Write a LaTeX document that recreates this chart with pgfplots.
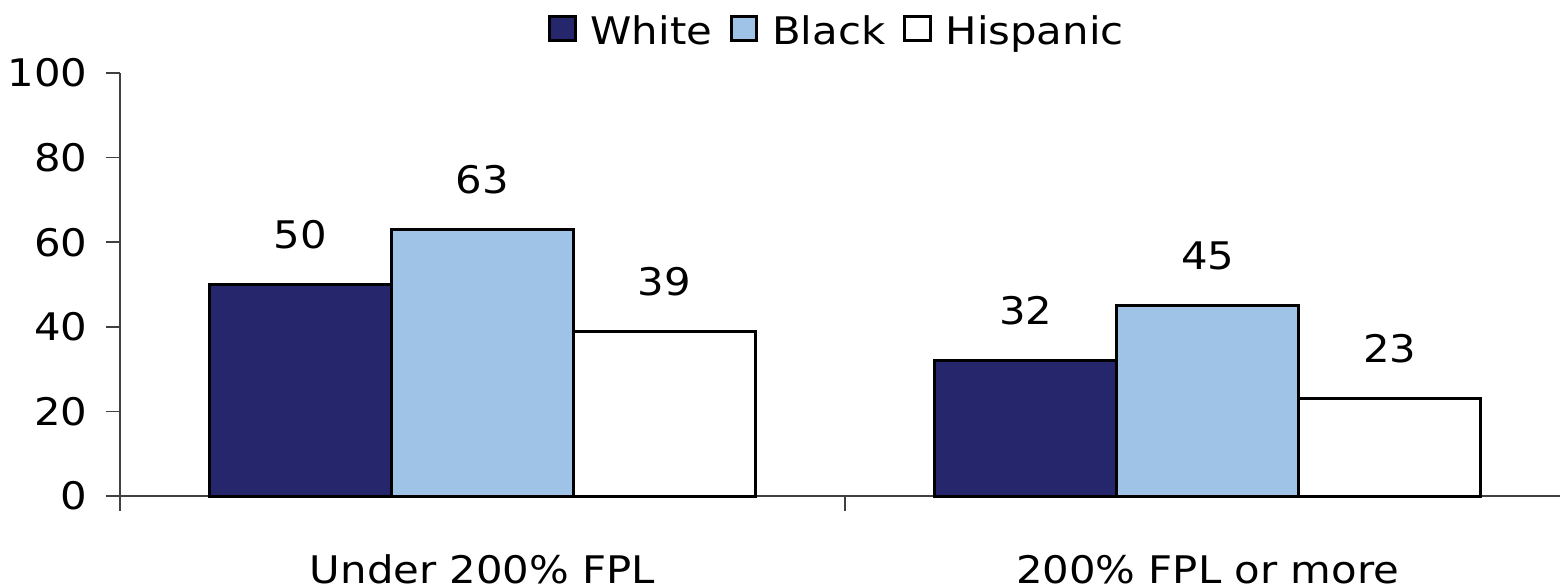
\documentclass[border=0pt]{standalone}
\usepackage{fontspec}
\setmainfont{DejaVu Sans}[FakeStretch=1.1]
\usepackage{pgfplots}
\pgfplotsset{compat=1.18}
\definecolor{navy}{RGB}{38,38,108}
\definecolor{lblue}{RGB}{158,195,230}
\begin{document}
\fontsize{9.5pt}{11pt}\selectfont
\begin{tikzpicture}
\begin{axis}[
  scale only axis, width=360pt, height=105.75pt,
  xmin=-0.5, xmax=1.486, ymin=0, ymax=100,
  ybar=0pt, bar width=45.5pt,
  axis x line*=bottom, axis y line*=left,
  axis line style={line width=0.4pt, black!75},
  xtick={0,1}, xticklabels={Under 200\% FPL, 200\% FPL or more},
  every major x tick/.style={draw=none},
  minor xtick={-0.5,0.5},
  ytick={0,20,...,100},
  tick align=outside,
  major tick length=3.5pt, minor tick length=3.75pt,
  tick style={black!75, line width=0.4pt},
  /pgf/number format/assume math mode=true,
  every tick label/.append style={font=\fontsize{9.5pt}{11pt}\selectfont},
  yticklabel style={inner sep=0pt, xshift=-4.5pt},
  xticklabel style={anchor=base, inner sep=0pt, yshift=-18.25pt},
  legend columns=3,
  legend style={at={(0.5,1)}, anchor=south, yshift=3.5pt, draw=none, fill=none, inner sep=0pt,
    font=\fontsize{9.5pt}{11pt}\selectfont,
    /tikz/every even column/.append style={column sep=2.5pt}},
  legend image code/.code={\draw[#1, line width=0.75pt] (0pt,-2pt) rectangle (6.3pt,4.15pt); \path (7.8pt,0pt);},
  nodes near coords,
  every node near coord/.append style={anchor=base, yshift=9pt, inner sep=0pt, font=\fontsize{9.5pt}{11pt}\selectfont, text=black},
  clip=false,
]
\addplot[fill=navy, draw=black, line width=0.75pt] coordinates {(0,50) (1,32)};
\addplot[fill=lblue, draw=black, line width=0.75pt] coordinates {(0,63) (1,45)};
\addplot[fill=white, draw=black, line width=0.75pt] coordinates {(0,39) (1,23)};
\legend{White, Black, Hispanic}
\coordinate (BL) at (rel axis cs:0,0);
\coordinate (TR) at (rel axis cs:1,1);
\end{axis}
\pgfresetboundingbox
\path ([xshift=-30pt,yshift=-22.75pt]BL) rectangle ([yshift=18.25pt]TR);
\end{tikzpicture}
\end{document}
